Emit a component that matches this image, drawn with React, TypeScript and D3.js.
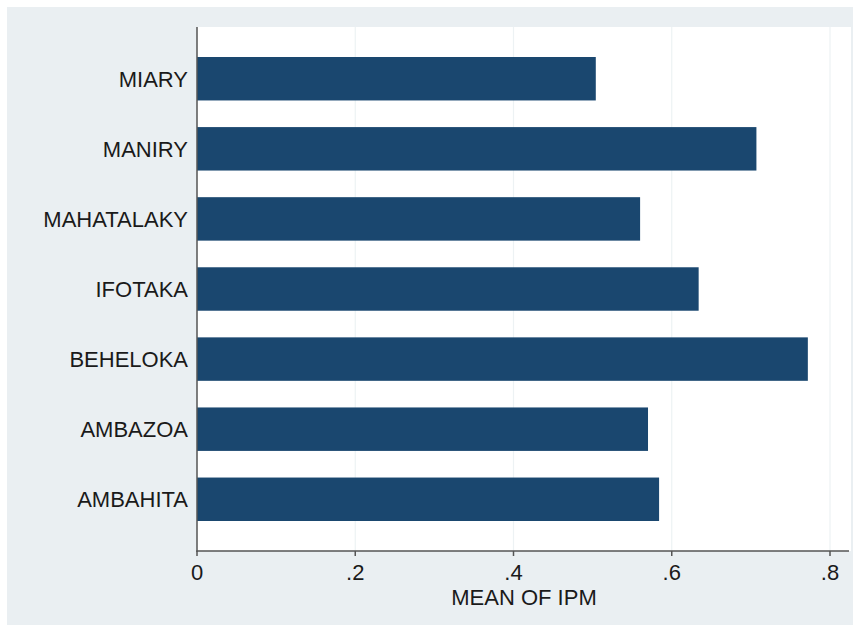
import React from "react";
import * as d3 from "d3";

const categories = ["MIARY", "MANIRY", "MAHATALAKY", "IFOTAKA", "BEHELOKA", "AMBAZOA", "AMBAHITA"];
const values = [0.504, 0.707, 0.56, 0.634, 0.772, 0.57, 0.584];
const xTicks = [0, 0.2, 0.4, 0.6, 0.8];
const xTickLabels = ["0", ".2", ".4", ".6", ".8"];
const xTitle = "MEAN OF IPM";

const W = 853;
const H = 625;
const plotLeft = 197;
const plotRight = 851;
const plotTop = 27;
const plotBottom = 551;

export default function App() {
  const x = d3.scaleLinear().domain([0, 0.8]).range([plotLeft, 830]);
  const y = d3.scaleBand<string>().domain(categories).range([57, 521]).paddingInner(0.38).paddingOuter(0);
  const font = "Arial, 'Liberation Sans', Helvetica, sans-serif";
  const fs = 22;
  return (
    <svg width={W} height={H} style={{ position: "absolute", left: 0, top: 0 }} fontFamily={font}>
      <rect x={0} y={0} width={W} height={H} fill="#ffffff" />
      <rect x={7} y={7} width={W - 7} height={H - 7} fill="#eaeff2" />
      <rect x={plotLeft} y={plotTop} width={plotRight - plotLeft} height={plotBottom - plotTop} fill="#ffffff" />
      {xTicks.slice(1).map((t) => (
        <line key={"g" + t} x1={x(t)} x2={x(t)} y1={plotTop} y2={plotBottom} stroke="#edf2f4" strokeWidth={1.2} />
      ))}
      {categories.map((c, i) => (
        <rect key={c} x={x(0)} y={y(c)!} width={x(values[i]) - x(0)} height={y.bandwidth()} fill="#1a476f" />
      ))}
      <line x1={plotLeft} x2={plotLeft} y1={plotTop} y2={plotBottom + 0.75} stroke="#555" strokeWidth={1.5} />
      <line x1={plotLeft - 0.75} x2={849} y1={plotBottom} y2={plotBottom} stroke="#555" strokeWidth={1.5} />
      {xTicks.map((t, i) => (
        <g key={"t" + t}>
          <line x1={x(t)} x2={x(t)} y1={plotBottom} y2={plotBottom + 5} stroke="#555" strokeWidth={1.5} />
          <text x={x(t)} y={580} textAnchor="middle" fontSize={fs} fill="#1a1a1a">
            {xTickLabels[i]}
          </text>
        </g>
      ))}
      {categories.map((c) => (
        <text key={"l" + c} x={188} y={y(c)! + y.bandwidth() / 2} dy="0.36em" textAnchor="end" fontSize={fs} fill="#1a1a1a">
          {c}
        </text>
      ))}
      <text x={(plotLeft + plotRight) / 2} y={605} textAnchor="middle" fontSize={fs} fill="#1a1a1a">
        {xTitle}
      </text>
    </svg>
  );
}
